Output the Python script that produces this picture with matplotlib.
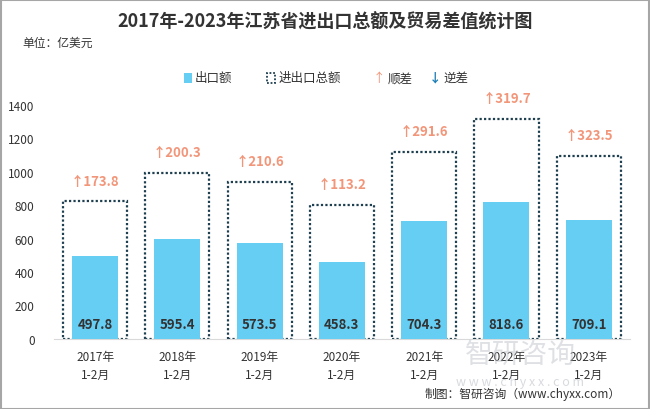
import matplotlib
matplotlib.use("Agg")
from matplotlib import pyplot as plt
import numpy as np

plt.rcParams['font.family'] = ['Noto Sans CJK SC', 'DejaVu Sans']

years = ['2017年\n1-2月', '2018年\n1-2月', '2019年\n1-2月', '2020年\n1-2月',
         '2021年\n1-2月', '2022年\n1-2月', '2023年\n1-2月']
export = [497.8, 595.4, 573.5, 458.3, 704.3, 818.6, 709.1]
total = [821.8, 990.5, 936.4, 803.4, 1117.0, 1317.5, 1094.7]
surplus = [173.8, 200.3, 210.6, 113.2, 291.6, 319.7, 323.5]

blue = '#66CDF3'
dark = '#1E3F4F'
orange = '#F2967A'
down_blue = '#1B7DB6'

fig = plt.figure(figsize=(6.5, 4.1), dpi=100)
ax = fig.add_axes([0.083, 0.171, 0.886, 0.571])
x = np.arange(len(years))

ax.bar(x, total, width=0.78, facecolor='none', edgecolor=dark,
       linestyle=(0, (1, 1)), linewidth=1.6, zorder=2)
ax.bar(x, export, width=0.56, color=blue, zorder=3)

for i in range(len(x)):
    ax.text(x[i], 88, '%.1f' % export[i], ha='center', va='center',
            fontsize=9.5, fontweight='bold', color='#333333', zorder=4)
    s = surplus[i]
    lab = ('↑' if s >= 0 else '↓') + '%.1f' % abs(s)
    ax.annotate(lab, (x[i], total[i]), xytext=(0, 15), textcoords='offset points',
                ha='center', va='center', fontsize=9.5, fontweight='bold',
                color=orange if s >= 0 else down_blue)

ax.set_xlim(-0.5, len(x) - 0.5)
ax.set_ylim(0, 1400)
ax.set_yticks(range(0, 1401, 200))
ax.set_xticks(x)
ax.set_xticklabels(years, fontsize=8.5, color='#333333', linespacing=1.5)
ax.tick_params(axis='y', length=0, labelsize=8.5, labelcolor='#333333', pad=14)
ax.tick_params(axis='x', length=0, pad=8)
for sp in ['top', 'right', 'left']:
    ax.spines[sp].set_visible(False)
ax.spines['bottom'].set_color('#D9D9D9')

fig.text(0.5, 0.945, '2017年-2023年江苏省进出口总额及贸易差值统计图', ha='center', va='center',
         fontsize=13, fontweight='bold', color='#333333')
fig.text(0.035, 0.895, '单位：亿美元', fontsize=8.5, color='#333333', va='center')

# legend
ly = 0.808
fig.patches.append(plt.Rectangle((0.283, ly - 0.012), 0.012, 0.024, transform=fig.transFigure,
                                 facecolor=blue, edgecolor='none'))
fig.text(0.3, ly, '出口额', fontsize=9, color='#333333', va='center')
fig.patches.append(plt.Rectangle((0.411, ly - 0.012), 0.012, 0.024, transform=fig.transFigure,
                                 facecolor='none', edgecolor=dark, linestyle=(0, (1, 1)), linewidth=1.3))
fig.text(0.428, ly, '进出口总额', fontsize=9, color='#333333', va='center')
fig.text(0.574, ly, '↑', fontsize=9, color=orange, va='center')
fig.text(0.597, ly, '顺差', fontsize=9, color='#333333', va='center')
fig.text(0.66, ly, '↓', fontsize=9, color=down_blue, va='center', fontweight='bold')
fig.text(0.683, ly, '逆差', fontsize=9, color='#333333', va='center')

# watermark
fig.text(0.80, 0.135, '智研咨询', fontsize=20, color='#B8BCC4', alpha=0.45, ha='center', va='center')
fig.text(0.80, 0.068, 'w w w . c h y x x . c o m', fontsize=9, color='#B8BCC4', alpha=0.55,
         ha='center', va='center')

fig.text(0.955, 0.038, '制图：智研咨询（www.chyxx.com）', fontsize=8.5, color='#333333',
         ha='right', va='center')

fig.patches.append(plt.Rectangle((0.001, 0.001), 0.997, 0.997, transform=fig.transFigure,
                                 facecolor='none', edgecolor='#A6A6A6', linewidth=1.5))

fig.savefig('out.png', dpi=100)
